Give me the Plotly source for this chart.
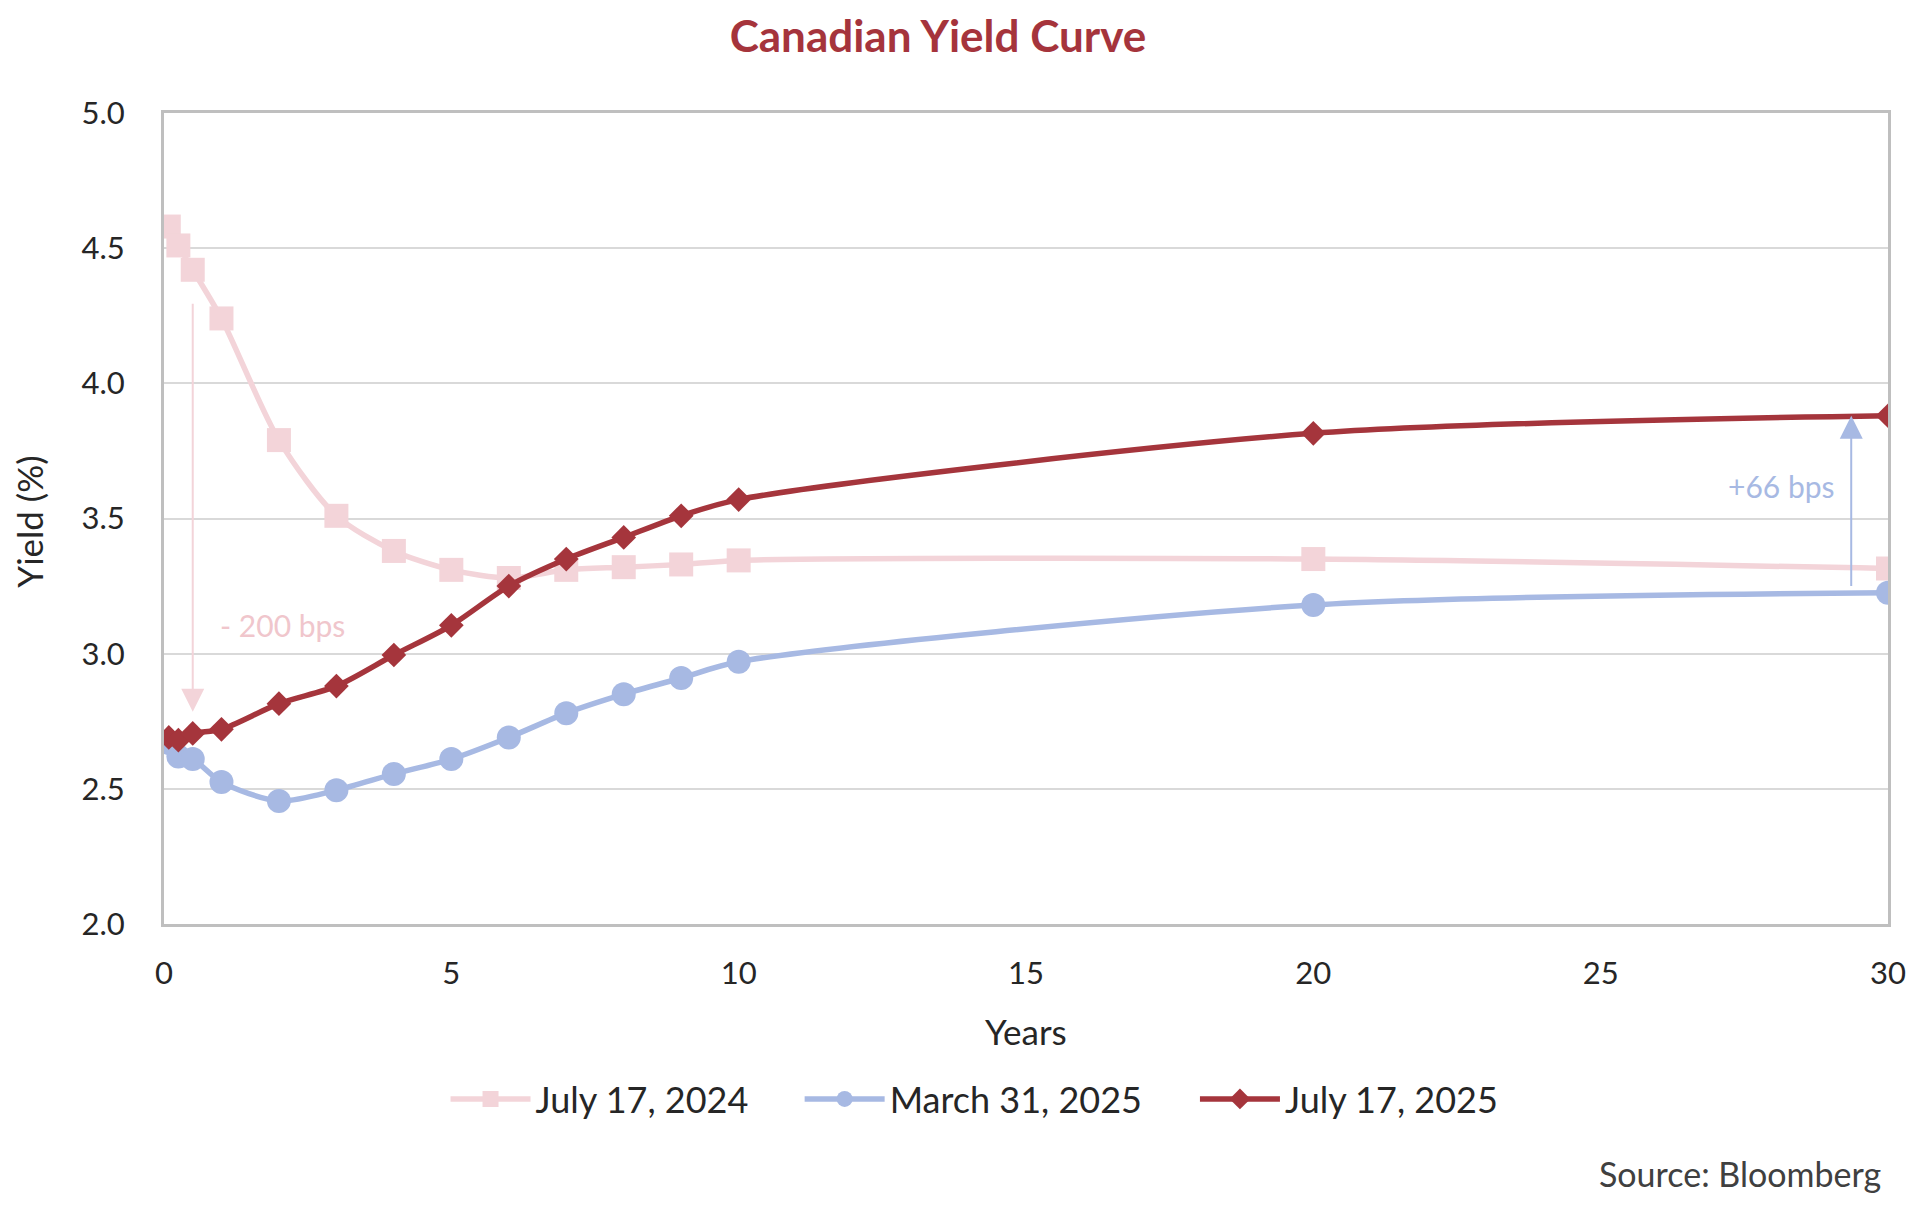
import plotly.graph_objects as go

tenors = [1/12, 0.25, 0.5, 1, 2, 3, 4, 5, 6, 7, 8, 9, 10, 20, 30]
jul_2024 = [4.58, 4.51, 4.42, 4.24, 3.79, 3.51, 3.38, 3.31, 3.28, 3.31, 3.32, 3.33, 3.345, 3.35, 3.315]
mar_2025 = [2.67, 2.62, 2.61, 2.525, 2.455, 2.495, 2.555, 2.61, 2.69, 2.78, 2.85, 2.91, 2.97, 3.18, 3.225]
jul_2025 = [2.69, 2.68, 2.705, 2.72, 2.815, 2.88, 2.995, 3.105, 3.25, 3.35, 3.43, 3.51, 3.57, 3.815, 3.88]

series_names = ["July 17, 2024", "March 31, 2025", "July 17, 2025"]
colors = ["#F3D4D9", "#A7B9E3", "#A5353C"]
symbols = ["square", "circle", "diamond"]
marker_sizes = [24, 24, 19]
legend_ids = ["legend", "legend2", "legend3"]
legend_x = [0.1633, 0.3687, 0.598]

FONT = "Lato"
TEXT = "#262626"

# page has an 8px body margin; plot area target (screen px): left 164, right 1897, top 113, bottom 924
W, H = 1910, 1200
L, T = 156, 105
PW, PH = 1733, 811

fig = go.Figure()
for name, ys, c, s, ms, lg in zip(series_names, [jul_2024, mar_2025, jul_2025], colors, symbols,
                                  marker_sizes, legend_ids):
    fig.add_trace(go.Scatter(
        x=tenors, y=ys, name=name, mode="lines+markers", legend=lg,
        line=dict(color=c, width=5.5, shape="spline", smoothing=0.8),
        marker=dict(symbol=s, size=ms, color=c),
    ))

legend_y = -(1099 - 924) / PH
legend_common = dict(orientation="h", y=legend_y, yanchor="middle", xanchor="left",
                     font=dict(size=36, color=TEXT, family=FONT), itemwidth=80,
                     bgcolor="rgba(0,0,0,0)")

fig.update_layout(
    width=W, height=H,
    margin=dict(l=L, r=W - L - PW, t=T, b=H - T - PH),
    plot_bgcolor="white", paper_bgcolor="white",
    font=dict(family=FONT, color=TEXT, size=31),
    title=dict(text="<b>Canadian Yield Curve</b>", x=(942 - 164) / PW, xref="paper", xanchor="center",
               y=1 - 29 / H, yref="container", yanchor="middle",
               font=dict(family=FONT, size=44, color="#A5343C")),
    showlegend=True,
    legend=dict(x=legend_x[0], **legend_common),
    legend2=dict(x=legend_x[1], **legend_common),
    legend3=dict(x=legend_x[2], **legend_common),
    xaxis=dict(range=[0, 30], tickmode="linear", tick0=0, dtick=5, showgrid=False,
               showline=True, linecolor="#BFBFBF", linewidth=3, mirror=True,
               ticks="", zeroline=False, tickfont=dict(size=31, color=TEXT),
               ticklabelstandoff=20),
    yaxis=dict(range=[2.0, 5.0], tickmode="linear", tick0=2.0, dtick=0.5, tickformat=".1f",
               showgrid=True, gridcolor="#D9D9D9", gridwidth=2,
               showline=True, linecolor="#BFBFBF", linewidth=3, mirror=True,
               ticks="", zeroline=False, tickfont=dict(size=31, color=TEXT),
               ticklabelstandoff=30),
)

# Axis titles
fig.add_annotation(text="Years", xref="paper", yref="paper", x=(1030 - 164) / PW, y=-(1031 - 924) / PH,
                   showarrow=False, font=dict(size=35, color=TEXT), xanchor="center", yanchor="middle")
fig.add_annotation(text="Yield (%)", xref="paper", yref="paper", x=-(164 - 28) / PW, y=(924 - 522) / PH,
                   showarrow=False, textangle=-90, font=dict(size=35, color=TEXT),
                   xanchor="center", yanchor="middle")

# Arrows
fig.add_annotation(x=0.5, y=2.785, ax=0.5, ay=4.30, xref="x", yref="y", axref="x", ayref="y",
                   showarrow=True, arrowhead=2, arrowsize=2.3, arrowwidth=2, arrowcolor="#F3D4D9",
                   standoff=0, startstandoff=0, text="")
fig.add_annotation(x=29.36, y=3.88, ax=29.36, ay=3.245, xref="x", yref="y", axref="x", ayref="y",
                   showarrow=True, arrowhead=2, arrowsize=2.3, arrowwidth=2, arrowcolor="#A7B9E3",
                   standoff=0, startstandoff=0, text="")
fig.add_annotation(text="- 200 bps", x=2.06, y=3.107, xref="x", yref="y", showarrow=False,
                   font=dict(size=30, color="#F0C6CC"))
fig.add_annotation(text="+66 bps", x=28.15, y=3.622, xref="x", yref="y", showarrow=False,
                   font=dict(size=30, color="#A7B9E3"))

# Source
fig.add_annotation(text="Source: Bloomberg", xref="paper", yref="paper", x=(1892 - 164) / PW,
                   y=-(1173 - 924) / PH, xanchor="right", yanchor="middle", showarrow=False,
                   font=dict(size=34, color="#404040"))

fig.write_html("out.html")
